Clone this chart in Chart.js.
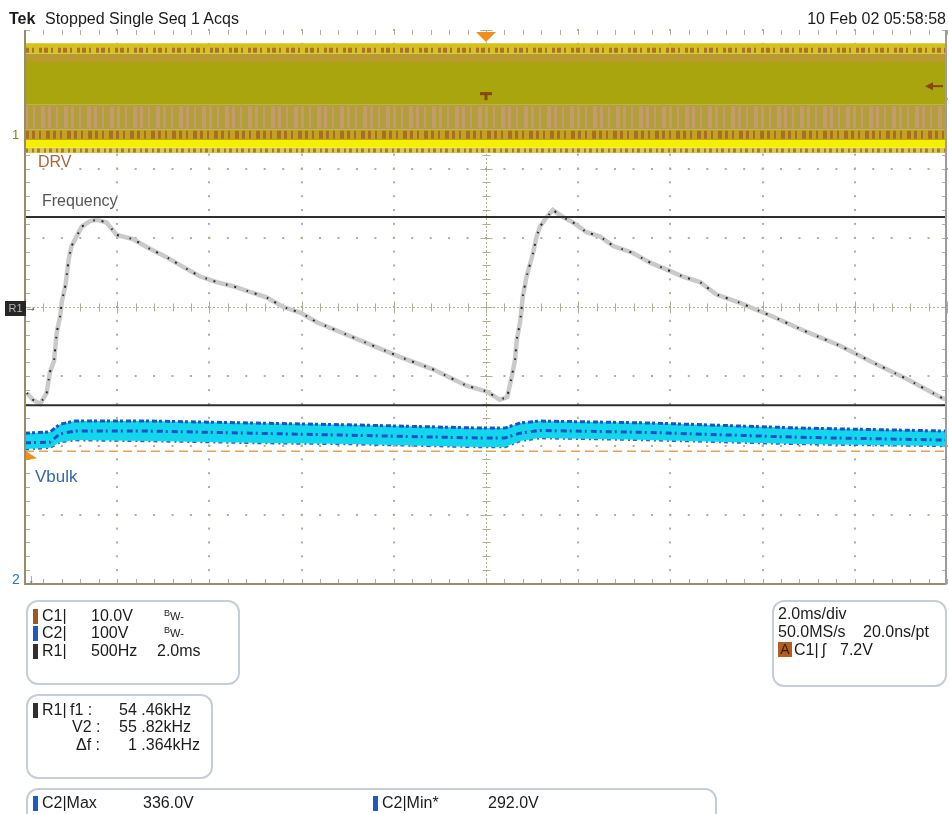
<!DOCTYPE html>
<html>
<head>
<meta charset="utf-8">
<script src="https://cdn.jsdelivr.net/npm/chart.js@4.4.0/dist/chart.umd.min.js"></script>
<style>
  body { margin: 0; background: #fff; font-family: "Liberation Sans", Arial, sans-serif; color: #1c1c1c; }
  #wrap { position: relative; width: 949px; height: 814px; overflow: hidden; }
  #scope { position: absolute; left: 0; top: 0; }
  .t { position: absolute; white-space: pre; font-size: 16px; line-height: 16px; }
  .nar { font-family: "Liberation Sans Narrow", "Liberation Sans", sans-serif; }
  .box { position: absolute; border: 2px solid #c5ced8; border-radius: 12px; box-sizing: border-box; }
  .sq { position: absolute; width: 5px; height: 15px; }
  .bw { position: absolute; white-space: pre; font-size: 11px; line-height: 11px; }
  .bw span { font-size: 9px; position: relative; top: -4px; }
</style>
</head>
<body>
<div id="wrap">
  <canvas id="scope" width="949" height="814"></canvas>

  <!-- header -->
  <div class="t" style="left:9px;top:10.5px;font-weight:bold">Tek</div>
  <div class="t" style="left:45px;top:10.5px">Stopped Single Seq 1 Acqs</div>
  <div class="t" style="right:3px;top:10.5px">10 Feb 02 05:58:58</div>

  <!-- trace labels -->
  <div class="t nar" style="left:38px;top:153.5px;color:#a3693a">DRV</div>
  <div class="t nar" style="left:42px;top:192.5px;color:#555">Frequency</div>
  <div class="t nar" style="left:35px;top:467.5px;color:#3868a8;font-size:17px;line-height:17px">Vbulk</div>

  <!-- channel markers -->
  <div class="t" style="left:12px;top:128px;font-size:13px;line-height:13px;color:#7d8c00">1</div>
  <div class="t" style="left:5px;top:301px;width:21px;height:15px;background:#262626;color:#b8b8b8;font-size:11px;line-height:15px;text-align:center">R1</div>
  <div class="t" style="left:25px;top:299px;font-size:12px;line-height:16px;color:#222">→</div>
  <div class="t" style="left:12px;top:572px;font-size:14px;line-height:14px;color:#2878b8">2</div>
  <div class="t" style="left:28px;top:572px;font-size:12px;line-height:14px;color:#1f5fb0">↓</div>

  <!-- vertical settings -->
  <div class="box" style="left:26px;top:600px;width:214px;height:85px"></div>
  <div class="sq" style="left:33px;top:609px;background:#a0581c"></div>
  <div class="sq" style="left:33px;top:626px;background:#1c5cc0"></div>
  <div class="sq" style="left:33px;top:644px;background:#303030"></div>
  <div class="t" style="left:42px;top:607.5px">C1|</div>
  <div class="t" style="left:42px;top:625px">C2|</div>
  <div class="t" style="left:42px;top:642.5px">R1|</div>
  <div class="t" style="left:91px;top:607.5px">10.0V</div>
  <div class="t" style="left:91px;top:625px">100V</div>
  <div class="t" style="left:91px;top:642.5px">500Hz</div>
  <div class="bw" style="left:164px;top:611px"><span>B</span>W-</div>
  <div class="bw" style="left:164px;top:628px"><span>B</span>W-</div>
  <div class="t" style="left:157px;top:642.5px">2.0ms</div>

  <!-- cursor readout -->
  <div class="box" style="left:26px;top:694px;width:187px;height:85px"></div>
  <div class="sq" style="left:33px;top:703px;background:#303030"></div>
  <div class="t" style="left:42px;top:701.5px">R1|</div>
  <div class="t" style="left:70px;top:701.5px">f1 :</div>
  <div class="t" style="left:119px;top:701.5px">54 .46kHz</div>
  <div class="t" style="left:72px;top:718.5px">V2 :</div>
  <div class="t" style="left:119px;top:718.5px">55 .82kHz</div>
  <div class="t" style="left:76px;top:736.5px">Δf :</div>
  <div class="t" style="left:128px;top:736.5px">1 .364kHz</div>

  <!-- measurements -->
  <div class="box" style="left:26px;top:788px;width:691px;height:50px"></div>
  <div class="sq" style="left:33px;top:796px;background:#1c5cc0"></div>
  <div class="t" style="left:42px;top:794.5px">C2|Max</div>
  <div class="t" style="left:143px;top:794.5px">336.0V</div>
  <div class="sq" style="left:373px;top:796px;background:#1c5cc0"></div>
  <div class="t" style="left:382px;top:794.5px">C2|Min*</div>
  <div class="t" style="left:488px;top:794.5px">292.0V</div>

  <!-- horizontal / trigger -->
  <div class="box" style="left:772px;top:600px;width:175px;height:87px"></div>
  <div class="t" style="left:778px;top:605.5px">2.0ms/div</div>
  <div class="t" style="left:778px;top:623.5px">50.0MS/s</div>
  <div class="t" style="left:863px;top:623.5px">20.0ns/pt</div>
  <div class="t" style="left:778px;top:642px;width:14px;height:15px;background:#b0601c;color:#3a1a00;text-align:center;line-height:15px;font-size:14px">A</div>
  <div class="t" style="left:794px;top:641.5px">C1|</div>
  <div class="t" style="left:822px;top:641.5px">ʃ</div>
  <div class="t" style="left:840px;top:641.5px">7.2V</div>
</div>

<script>
// R1 frequency trace (ms, kHz)
const timeMs = [0.04, 0.17, 0.33, 0.47, 0.54, 0.63, 0.69, 0.76, 0.80, 0.88, 0.95, 1.01, 1.12, 1.23, 1.41, 1.56,
  1.77, 1.99, 2.34, 2.71, 3.07, 3.43, 3.80, 4.16, 4.51, 4.88, 5.24, 5.60, 5.97, 6.33, 7.05, 8.13, 8.85, 9.28,
  9.59, 10.02, 10.30, 10.46, 10.56, 10.63, 10.67, 10.74, 10.80, 10.88, 11.02, 11.10, 11.17, 11.32, 11.45,
  11.67, 11.89, 12.18, 12.47, 12.76, 13.19, 13.56, 13.92, 14.27, 14.64, 15.00, 15.51, 16.23, 16.96, 17.68,
  18.39, 19.13, 19.85, 19.99];
const freqKHz = [54.55, 54.50, 54.47, 54.55, 54.70, 54.78, 54.99, 55.10, 55.21, 55.33, 55.52, 55.61, 55.68, 55.75,
  55.79, 55.80, 55.78, 55.69, 55.66, 55.59, 55.53, 55.46, 55.39, 55.35, 55.32, 55.28, 55.24, 55.17, 55.13,
  55.06, 54.96, 54.81, 54.72, 54.65, 54.60, 54.56, 54.50, 54.52, 54.67, 54.79, 54.94, 55.06, 55.25, 55.39,
  55.56, 55.68, 55.75, 55.82, 55.87, 55.82, 55.78, 55.71, 55.68, 55.61, 55.56, 55.49, 55.44, 55.39, 55.35,
  55.26, 55.20, 55.10, 54.99, 54.89, 54.77, 54.65, 54.52, 54.50];
const cursorF1 = 54.46;
const cursorV2 = 55.82;

// C2 Vbulk envelope (ms, V)
const vbulkTime = [0, 0.54, 0.76, 1.08, 2.71, 4.88, 7.05, 9.87, 10.41, 10.74, 11.17, 13.56, 16.81, 20];
const vbulkMax = [317, 318.7, 330, 334.5, 334.5, 331.7, 329, 324.4, 324.4, 331.7, 334.5, 331.7, 324.4, 320];
const vbulkMin = [294, 296, 304, 307, 305.7, 303, 301.3, 297, 297, 305.7, 310, 307, 301.3, 298.5];
const vbulkInner = [303, 304, 316, 320, 320, 317, 314, 310, 310, 317, 321, 318, 311, 307];
const vbulkRef = 291;

// C1 DRV band (V), layered from top to bottom
const drvTime = [0, 20];
const drvEdges = [13.4, 11.9, 10.7, 4.5, 0.9, -0.58, -1.7, -2.45];
const drvColors = ['#d6c21e', '#b99a2e', '#a8a50e', '#b29e3a', '#c2a222', '#f4f000', '#d9c85a'];
const drvSpeckle = [12.4, 2.7, 0.2, -2.1];

const trigTime = 10;
const trigLevel = 7.2;

const datasets = [];
const flat = (ts, v) => ts.map(t => ({ x: t, y: v }));
const pts = (ts, vs) => ts.map((t, i) => ({ x: t, y: vs[i] }));

// cursors on top
[cursorF1, cursorV2].forEach(c => datasets.push({
  data: flat(drvTime, c), yAxisID: 'yF', borderColor: '#2e2e2e', borderWidth: 2, order: 1
}));
// frequency trace
datasets.push({ data: pts(timeMs, freqKHz), yAxisID: 'yF', borderColor: '#262626', borderWidth: 2,
  borderDash: [1.5, 7, 2, 11], order: 2 });
datasets.push({ data: pts(timeMs, freqKHz), yAxisID: 'yF', borderColor: '#cacaca', borderWidth: 4.5, order: 3 });
// vbulk
datasets.push({ data: pts(vbulkTime, vbulkInner), yAxisID: 'yV', borderColor: '#1f4fc4', borderWidth: 3,
  borderDash: [6, 3, 2, 4], order: 4 });
datasets.push({ data: pts(vbulkTime, vbulkMax), yAxisID: 'yV', borderColor: '#2050c8', borderWidth: 3,
  borderDash: [5, 2, 3, 3], backgroundColor: '#12d6ee', fill: '+1', order: 5 });
datasets.push({ data: pts(vbulkTime, vbulkMin), yAxisID: 'yV', borderColor: '#2a62cc', borderWidth: 2.5,
  borderDash: [4, 4, 2, 3], order: 5 });
datasets.push({ data: flat(drvTime, vbulkRef), yAxisID: 'yV', borderColor: '#eba150', borderWidth: 1.5,
  borderDash: [9, 5], order: 6 });
// DRV speckle overlays
const speckleStyles = [
  { c: '#a8742a', w: 5, d: [4, 3, 2, 5, 3, 2] },
  { c: '#c49c6c', w: 22, d: [3, 5, 2, 6, 4, 3] },
  { c: '#a86e22', w: 8, d: [4, 3, 3, 4, 2, 5] },
  { c: '#b07a2a', w: 4, d: [3, 4, 2, 3] }
];
drvSpeckle.forEach((v, i) => datasets.push({
  data: flat(drvTime, v), yAxisID: 'yD', borderColor: speckleStyles[i].c, borderWidth: speckleStyles[i].w,
  borderDash: speckleStyles[i].d, borderCapStyle: 'butt', order: 10
}));
// DRV layers
for (let i = 0; i < drvColors.length; i++) {
  datasets.push({ data: flat(drvTime, drvEdges[i]), yAxisID: 'yD', borderWidth: 0, borderColor: 'transparent',
    backgroundColor: drvColors[i], fill: { value: drvEdges[i + 1] }, order: 20 });
}

const gridColor = '#b3ae98';
const scopeGrid = {
  id: 'scopeGrid',
  beforeDatasetsDraw(chart) {
    const { ctx, chartArea: a, scales } = chart;
    const x = scales.x, d = scales.yDiv;
    ctx.save();
    ctx.fillStyle = gridColor;
    for (let t = 2; t < 20; t += 2) {
      if (t === trigTime) continue;
      const px = Math.round(x.getPixelForValue(t));
      for (let k = 0; k <= 40; k++) {
        const py = d.getPixelForValue(-4 + k * 0.2);
        ctx.fillRect(px - 1, py - 1, 2, 2);
      }
    }
    for (let v = -3; v <= 3; v++) {
      if (v === 0) continue;
      const py = Math.round(d.getPixelForValue(v));
      for (let k = 0; k <= 50; k++) {
        const px = x.getPixelForValue(k * 0.4);
        ctx.fillRect(px - 1, py - 1, 2, 2);
      }
    }
    const cx = Math.round(x.getPixelForValue(trigTime)) + 0.5;
    const cy = Math.round(d.getPixelForValue(0)) + 0.5;
    ctx.strokeStyle = gridColor;
    ctx.lineWidth = 1;
    ctx.setLineDash([2, 2]);
    ctx.beginPath();
    ctx.moveTo(cx, a.top); ctx.lineTo(cx, a.bottom);
    ctx.moveTo(a.left, cy); ctx.lineTo(a.right, cy);
    ctx.stroke();
    ctx.setLineDash([]);
    ctx.beginPath();
    for (let k = 0; k <= 50; k++) {
      const px = Math.round(x.getPixelForValue(k * 0.4)) + 0.5;
      const len = k % 5 === 0 ? 6 : 4;
      ctx.moveTo(px, cy - len); ctx.lineTo(px, cy + len);
      ctx.moveTo(px, a.top); ctx.lineTo(px, a.top + 5);
      ctx.moveTo(px, a.bottom); ctx.lineTo(px, a.bottom - 5);
    }
    for (let k = 0; k <= 40; k++) {
      const py = Math.round(d.getPixelForValue(-4 + k * 0.2)) + 0.5;
      const len = k % 5 === 0 ? 6 : 4;
      ctx.moveTo(cx - len, py); ctx.lineTo(cx + len, py);
      ctx.moveTo(a.left, py); ctx.lineTo(a.left + 5, py);
      ctx.moveTo(a.right, py); ctx.lineTo(a.right - 5, py);
    }
    ctx.stroke();
    ctx.restore();
  },
  afterDatasetsDraw(chart) {
    const { ctx, chartArea: a, scales } = chart;
    ctx.save();
    // frame
    ctx.lineWidth = 2;
    ctx.strokeStyle = '#958c6c';
    ctx.beginPath();
    ctx.moveTo(a.left, a.top); ctx.lineTo(a.left, a.bottom); ctx.lineTo(a.right - 2, a.bottom);
    ctx.stroke();
    ctx.strokeStyle = '#9c9c9c';
    ctx.beginPath();
    ctx.moveTo(a.right - 1, a.top); ctx.lineTo(a.right - 1, a.bottom);
    ctx.stroke();
    // trigger position marker
    const tx = scales.x.getPixelForValue(trigTime);
    ctx.fillStyle = '#f08c20';
    ctx.beginPath();
    ctx.moveTo(tx - 10, a.top + 2); ctx.lineTo(tx + 10, a.top + 2); ctx.lineTo(tx, a.top + 12);
    ctx.closePath(); ctx.fill();
    ctx.fillStyle = '#8a4612';
    const ty = scales.yD.getPixelForValue(5.9);
    ctx.fillRect(tx - 6, ty - 3, 12, 3);
    ctx.fillRect(tx - 1.5, ty - 3, 3, 8);
    // C1 trigger level arrow
    const ly = scales.yD.getPixelForValue(trigLevel);
    ctx.beginPath();
    ctx.moveTo(a.right - 22, ly); ctx.lineTo(a.right - 14, ly - 4); ctx.lineTo(a.right - 14, ly + 4);
    ctx.closePath(); ctx.fill();
    ctx.fillRect(a.right - 14, ly - 1, 10, 2);
    // C2 reference marker
    const ry = scales.yV.getPixelForValue(vbulkRef);
    ctx.fillStyle = '#f0901c';
    ctx.beginPath();
    ctx.moveTo(a.left + 1, ry); ctx.lineTo(a.left + 1, ry + 9); ctx.lineTo(a.left + 12, ry + 7);
    ctx.closePath(); ctx.fill();
    ctx.restore();
  }
};

new Chart(document.getElementById('scope'), {
  type: 'line',
  data: { datasets },
  options: {
    responsive: false,
    animation: false,
    devicePixelRatio: 1,
    layout: { padding: { left: 25, top: 30, right: 2, bottom: 230 } },
    elements: { point: { radius: 0 }, line: { tension: 0 } },
    plugins: { legend: { display: false }, tooltip: { enabled: false } },
    scales: {
      x: { type: 'linear', min: 0, max: 20, display: false },
      yF: { type: 'linear', min: 53.17, max: 57.17, display: false },
      yV: { type: 'linear', min: 99.2, max: 899.2, display: false },
      yD: { type: 'linear', min: -64.69, max: 15.31, display: false },
      yDiv: { type: 'linear', min: -4, max: 4, display: false }
    }
  },
  plugins: [scopeGrid]
});
</script>
</body>
</html>
